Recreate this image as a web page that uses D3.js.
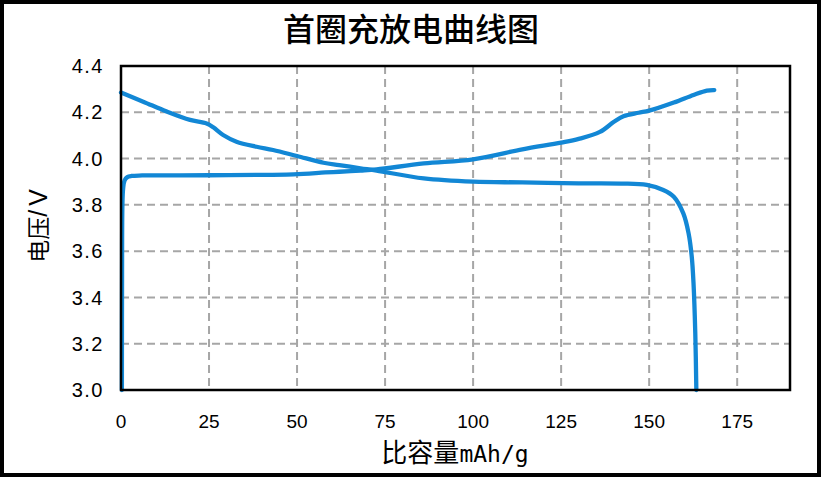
<!DOCTYPE html>
<html><head><meta charset="utf-8">
<script src="https://cdn.jsdelivr.net/npm/d3@7"></script>
<style>body{margin:0;background:#fff;}</style>
</head><body>
<svg id="c" width="822" height="479"></svg>
<script>
const title = "首圈充放电曲线图";
const xLabel = ["比容量", "mAh/g"];
const yLabel = ["电压", "/V"];
const xTicks = [0, 25, 50, 75, 100, 125, 150, 175];
const yTicks = [3.0, 3.2, 3.4, 3.6, 3.8, 4.0, 4.2, 4.4];
// charge curve [capacity mAh/g, voltage V]
const chargeCap = [0.25,0.3,0.4,0.6,1.0,1.8,3,6,25,49,58,62,68,72.6,86,100,114,125,130,136,140,142.7,147,150,157,162.6,166.4,168.5];
const chargeV   = [3.0,3.5,3.8,3.87,3.905,3.92,3.925,3.927,3.928,3.932,3.94,3.943,3.948,3.953,3.979,3.997,4.04,4.069,4.085,4.115,4.159,4.183,4.198,4.207,4.242,4.275,4.294,4.296];
// discharge curve
const dischCap = [0,6.3,13,19.6,24.3,26.2,29,32.8,38.5,43.2,50,57.5,62,68,72.6,86,100,114,130,142,149.3,154,157,159.7,161.2,162.1,162.6,163.1,163.4];
const dischV   = [4.285,4.246,4.203,4.167,4.152,4.135,4.102,4.073,4.051,4.037,4.011,3.982,3.972,3.958,3.948,3.914,3.90,3.897,3.893,3.892,3.886,3.864,3.835,3.763,3.677,3.576,3.461,3.245,3.0];

const svg = d3.select("#c");
const L = 121, R = 790, T = 66, B = 390;
const x = d3.scaleLinear().domain([0, 190]).range([L, R]);
const y = d3.scaleLinear().domain([3.0, 4.4]).range([B, T]);

// outer frame
svg.append("rect").attr("x", 2).attr("y", 2).attr("width", 817).attr("height", 473)
  .attr("fill", "#fff").attr("stroke", "#000").attr("stroke-width", 4);

// gridlines
const grid = svg.append("g").attr("stroke", "#a6a6a6").attr("stroke-width", 2).attr("stroke-dasharray", "8,5");
grid.selectAll("line.v").data(xTicks.filter(d => d > 0)).join("line")
  .attr("x1", d => x(d)).attr("x2", d => x(d)).attr("y1", T).attr("y2", B);
grid.selectAll("line.h").data(yTicks.filter(d => d > 3.0 && d < 4.4)).join("line").attr("class","h")
  .attr("x1", L).attr("x2", R).attr("y1", d => y(d)).attr("y2", d => y(d));

// curves
const line = d3.line().x(d => x(d[0])).y(d => y(d[1])).curve(d3.curveCatmullRom.alpha(0.5));
const charge = chargeCap.map((c, i) => [c, chargeV[i]]);
const disch = dischCap.map((c, i) => [c, dischV[i]]);
[charge, disch].forEach(data => {
  svg.append("path").datum(data).attr("d", line).attr("fill", "none")
    .attr("stroke", "#1287d5").attr("stroke-width", 4.3).attr("stroke-linecap", "round").attr("stroke-linejoin", "round");
});

// plot border
svg.append("rect").attr("x", L).attr("y", T).attr("width", R - L).attr("height", B - T)
  .attr("fill", "none").attr("stroke", "#000").attr("stroke-width", 2.5);

// y tick labels
svg.append("g").selectAll("text").data(yTicks).join("text")
  .attr("x", 104).attr("y", d => y(d)).attr("dy", "0.36em").attr("text-anchor", "end")
  .attr("font-family", "'Liberation Sans', Arial, sans-serif").attr("font-size", 20).attr("fill", "#000")
  .attr("letter-spacing", 1.5)
  .text(d => d.toFixed(1));

// x tick labels
svg.append("g").selectAll("text").data(xTicks).join("text")
  .attr("x", d => x(d)).attr("y", 428).attr("text-anchor", "middle")
  .attr("font-family", "'Liberation Sans', Arial, sans-serif").attr("font-size", 19).attr("fill", "#000")
  .text(d => d);

// title
svg.append("text").attr("x", 411).attr("y", 41).attr("text-anchor", "middle")
  .attr("font-family", "'Noto Sans CJK SC', sans-serif").attr("font-size", 32).attr("font-weight", 500)
  .text(title);

// x axis label
const xl = svg.append("text").attr("x", 455).attr("y", 462).attr("text-anchor", "middle").attr("fill", "#000");
xl.append("tspan").attr("font-family", "'Noto Sans CJK SC', sans-serif").attr("font-size", 26).text(xLabel[0]);
xl.append("tspan").attr("font-family", "'DejaVu Sans Mono', monospace").attr("font-size", 23).text(xLabel[1]);

// y axis label
const yl = svg.append("text").attr("transform", "translate(47,224) rotate(-90)").attr("text-anchor", "middle").attr("fill", "#000");
yl.append("tspan").attr("font-family", "'Noto Sans CJK SC', sans-serif").attr("font-size", 23).text(yLabel[0]);
yl.append("tspan").attr("font-family", "'Liberation Sans', Arial, sans-serif").attr("font-size", 25).attr("letter-spacing", 4).text(yLabel[1]);
</script>
</body></html>
